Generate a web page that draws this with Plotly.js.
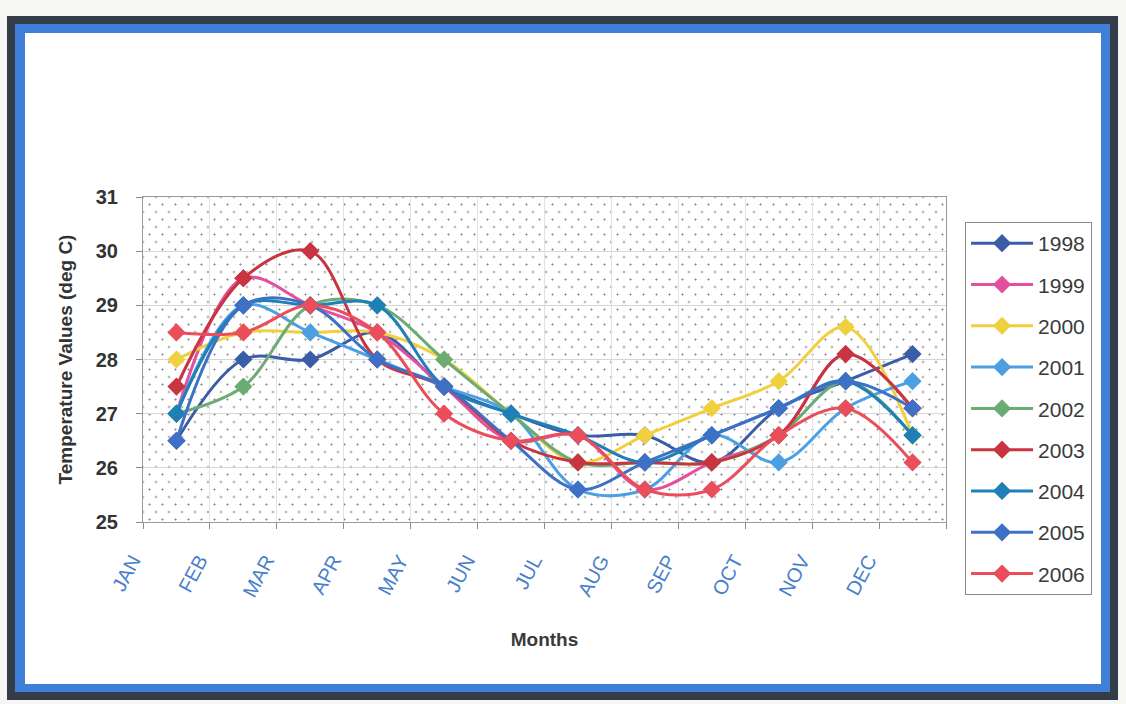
<!DOCTYPE html>
<html>
<head>
<meta charset="utf-8">
<script src="https://cdn.plot.ly/plotly-3.0.1.min.js"></script>
<style>
  html, body { margin: 0; padding: 0; width: 1126px; height: 704px; overflow: hidden; background: #f6f6f4; }
  #frameDark { position: absolute; left: 7px; top: 16px; width: 1111px; height: 684px; background: #343c48; }
  #frameBlue { position: absolute; left: 15px; top: 24px; width: 1095px; height: 668px; background: #3f7fd8; }
  #frameInner { position: absolute; left: 25px; top: 33px; width: 1076px; height: 651px; background: #ffffff; }
  #dots { position: absolute; background-color: #ffffff;
    background-image: radial-gradient(circle, #8e8e8e 0.8px, rgba(0,0,0,0) 1.35px),
                      radial-gradient(circle, #8e8e8e 0.8px, rgba(0,0,0,0) 1.35px);
    background-size: 13px 15px, 13px 15px;
    background-position: 0 0, 6.5px 7.5px; }
  #chart { position: absolute; left: 0; top: 0; width: 1126px; height: 704px; }
</style>
</head>
<body>
<div id="frameDark"></div>
<div id="frameBlue"></div>
<div id="frameInner"></div>
<div id="dots"></div>
<div id="chart"></div>
<script>
// Monthly mean temperature (deg C), one series per year
const months = ['JAN', 'FEB', 'MAR', 'APR', 'MAY', 'JUN', 'JUL', 'AUG', 'SEP', 'OCT', 'NOV', 'DEC'];
const years = ['1998', '1999', '2000', '2001', '2002', '2003', '2004', '2005', '2006'];

const t1998 = [26.5, 28.0, 28.0, 28.5, 27.5, 27.0, 26.6, 26.6, 26.1, 27.1, 27.6, 28.1];
const t1999 = [27.0, 29.5, 29.0, 28.5, 27.5, 26.5, 26.6, 25.6, 26.1, 26.6, 28.1, 27.1];
const t2000 = [28.0, 28.5, 28.5, 28.5, 28.0, 27.0, 26.1, 26.6, 27.1, 27.6, 28.6, 26.6];
const t2001 = [27.0, 29.0, 28.5, 28.0, 27.5, 27.0, 25.6, 25.6, 26.6, 26.1, 27.1, 27.6];
const t2002 = [27.0, 27.5, 29.0, 29.0, 28.0, 27.0, 26.1, 26.1, 26.1, 26.6, 27.6, 26.6];
const t2003 = [27.5, 29.5, 30.0, 28.0, 27.5, 26.5, 26.1, 26.1, 26.1, 26.6, 28.1, 27.1];
const t2004 = [27.0, 29.0, 29.0, 29.0, 27.5, 27.0, 26.6, 26.1, 26.6, 27.1, 27.6, 26.6];
const t2005 = [26.5, 29.0, 29.0, 28.0, 27.5, 26.5, 25.6, 26.1, 26.6, 27.1, 27.6, 27.1];
const t2006 = [28.5, 28.5, 29.0, 28.5, 27.0, 26.5, 26.6, 25.6, 25.6, 26.6, 27.1, 26.1];

const yearValues = [t1998, t1999, t2000, t2001, t2002, t2003, t2004, t2005, t2006];
const yearColors = ['#3b5ca6', '#e2509e', '#f0d03e', '#4b9fe2', '#6bab74',
                    '#c8343f', '#1f80b8', '#3e70c6', '#ea4e5b'];

const traces = years.map((yr, i) => ({
  type: 'scatter',
  mode: 'lines+markers',
  name: yr,
  legendgroup: yr,
  x: months,
  y: yearValues[i],
  line: { color: yearColors[i], width: 3, shape: 'spline', smoothing: 1 },
  marker: { symbol: 'diamond', size: 14, color: yearColors[i] }
}));

const M = { l: 143, r: 180, t: 197, b: 182 };
const W = 1126, H = 704;

// dotted plot-area fill sits behind the transparent plot
const dots = document.getElementById('dots');
dots.style.left = M.l + 'px';
dots.style.top = M.t + 'px';
dots.style.width = (W - M.l - M.r) + 'px';
dots.style.height = (H - M.t - M.b) + 'px';

const FONT = 'Liberation Sans, Arial, sans-serif';

const layout = {
  width: W,
  height: H,
  margin: M,
  paper_bgcolor: 'rgba(0,0,0,0)',
  plot_bgcolor: 'rgba(0,0,0,0)',
  font: { family: FONT, color: '#333333' },
  showlegend: true,
  legend: {
    x: 1.0237, y: 0.923, xanchor: 'left', yanchor: 'top',
    bgcolor: '#ffffff', bordercolor: '#8a8a8a', borderwidth: 1,
    font: { family: FONT, size: 21, color: '#3a3a3a' },
    tracegroupgap: 11,
    itemwidth: 62,
    maxheight: 420
  },
  xaxis: {
    type: 'category',
    range: [-0.5, 11.5],
    tickson: 'boundaries',
    ticks: 'outside', ticklen: 6, tickcolor: '#8a8a8a',
    showline: true, linecolor: '#9a9a9a', linewidth: 1, mirror: true,
    showgrid: true, gridcolor: '#e2e2e2',
    tickangle: -62,
    tickfont: { family: FONT, size: 20, color: '#4a7fcc' },
    ticklabelshift: -44,
    ticklabelstandoff: 18,
    title: { text: 'Months', font: { family: FONT, size: 19, color: '#3a3a3a', weight: 'bold' }, standoff: 32 },
    fixedrange: true
  },
  yaxis: {
    range: [25, 31], dtick: 1,
    ticks: 'outside', ticklen: 6, tickcolor: '#8a8a8a',
    showline: true, linecolor: '#9a9a9a', linewidth: 1, mirror: true,
    showgrid: true, gridcolor: '#d6d6d6',
    zeroline: false,
    ticklabelstandoff: 14,
    tickfont: { family: FONT, size: 20, color: '#333333', weight: 'bold' },
    title: { text: 'Temperature Values (deg C)', font: { family: FONT, size: 19, color: '#333333', weight: 'bold' }, standoff: 18 },
    fixedrange: true
  }
};

Plotly.newPlot('chart', traces, layout, { displayModeBar: false, staticPlot: true });
</script>
</body>
</html>
